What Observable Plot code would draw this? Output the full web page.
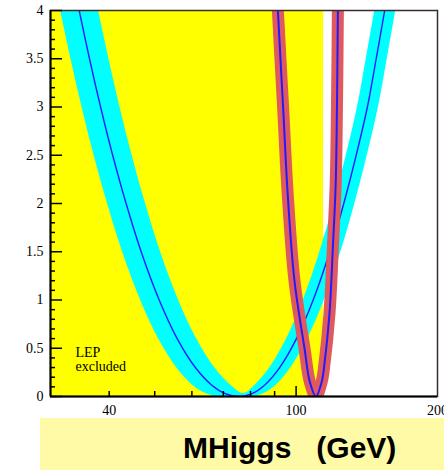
<!DOCTYPE html>
<html><head><meta charset="utf-8">
<script src="https://cdn.jsdelivr.net/npm/d3@7"></script>
<script src="https://cdn.jsdelivr.net/npm/@observablehq/plot@0.6"></script>
<style>
html,body{margin:0;padding:0;background:#fff;overflow:hidden;width:444px;height:470px}
#chart{position:absolute;left:0;top:0}
#xtitle{position:absolute;left:40px;top:418px;width:404px;height:52px;background:#fffaa6}
#xtitle span{position:absolute;left:143px;top:15px;font:bold 30px "Liberation Sans",Arial,sans-serif;line-height:30px;white-space:pre;color:#000}
</style></head><body>
<div id="chart"></div>
<div id="xtitle"><span>MHiggs   (GeV)</span></div>
<script>
// ---- axes ----
const xDomain = [30, 200];
const yDomain = [0, 4];
const xTickValues = [40, 100, 200];
const xTickLabels = ["40", "100", "200"];
const xMinorTicks = [40, 50, 60, 70, 80, 90];
const xMajorTicks = [100];
const yMajorTicks = [0, 0.5, 1, 1.5, 2, 2.5, 3, 3.5, 4];
const yTickLabels = ["0", "0.5", "1", "1.5", "2", "2.5", "3", "3.5", "4"];
const yMinorTicks = d3.range(1, 40).map(i => i / 10).filter(v => Math.round(v * 10) % 5 !== 0);

// ---- LEP exclusion ----
const lepLimit = 114.4;
const lepLabel = "LEP\nexcluded";

// ---- cyan band: centre line (Δχ² level, mass) ----
const bandCentreLevel = [4.4,4,3.5,3,2.5,2,1.5,1,0.6,0.3,0.12,0.03,0,0.03,0.12,0.3,0.6,1,1.5,2,2.5,3,3.5,4,4.4];
const bandCentreMass  = [33.24,34.53,36.32,38.35,40.69,43.46,46.79,51.11,55.82,61.03,66.05,70.70,75.66,80.55,85.77,92.26,100.18,108.73,117.95,126.33,134.25,141.83,148.08,154.38,159.37];

// ---- cyan band: inner (upper) edge, left to right ----
const bandInnerLevel = [4.4,4,3.5,3,2.5,2,1.5,1,0.6,0.3,0.12,0.036,0.12,0.3,0.6,1,1.5,2,2.5,3,3.5,4,4.4];
const bandInnerMass  = [36.48,37.90,39.86,42.09,44.66,47.70,51.36,56.10,61.27,66.99,72.50,77.16,81.47,87.64,95.16,103.28,112.04,120.0,127.52,134.72,140.66,146.64,151.39];

// ---- cyan band: outer (lower) edge, left to right ----
const bandOuterLevel = [4.4,4,3.5,3,2.5,2,1.5,1,0.6,0.3,0.12,0.03,0,0,0.03,0.12,0.3,0.6,1,1.5,2,2.5,3,3.5,4,4.4];
const bandOuterMass  = [30.28,31.46,33.09,34.94,37.07,39.60,42.63,46.57,50.86,55.60,60.18,64.41,68.93,79.65,84.80,90.30,97.13,105.47,114.47,124.18,133.0,141.34,149.32,155.9,162.53,167.78];

// ---- red curve ----
const redLevel = [4.4,4,3,2.1,1.2,0.5,0.15,0,0.15,0.34,0.86,1.55,2.2,3,4,4.4];
const redMass  = [90.78,91.46,93.82,95.96,99.20,104.2,106.98,110.18,113.36,114.93,117.78,119.76,121.41,122.18,122.73,122.97];

// ---- colours ----
const cYellow = "#ffff00", cCyan = "#00ffff", cBlue = "#2418ff", cRed = "#de5a5f";

const zip = (xs, ys) => xs.map((x, i) => ({m: x, v: ys[i]}));
const centre = zip(bandCentreMass, bandCentreLevel);
const bandPoly = [
  ...zip(bandInnerMass, bandInnerLevel),
  ...zip(bandOuterMass, bandOuterLevel).reverse()
];
const red = zip(redMass, redLevel);
const xLabelData = xTickValues.map((x, i) => ({x, label: xTickLabels[i]}));
const yLabelData = yMajorTicks.map((y, i) => ({y, label: yTickLabels[i]}));

const W = 444, H = 418, mL = 50, mR = 7, mT = 10, mB = 22;
const fw = W - mL - mR, fh = H - mT - mB;

const plot = Plot.plot({
  width: W, height: H,
  marginLeft: mL, marginRight: mR, marginTop: mT, marginBottom: mB,
  x: {type: "log", domain: xDomain, axis: null},
  y: {domain: yDomain, axis: null},
  style: {fontFamily: "'Liberation Serif','Times New Roman',serif", fontSize: "14px", background: "white", color: "black"},
  marks: [
    Plot.rect([{x1: xDomain[0], x2: lepLimit}], {x1: "x1", x2: "x2", y1: yDomain[0], y2: yDomain[1], fill: cYellow}),
    Plot.line(bandPoly, {x: "m", y: "v", fill: cCyan, stroke: "none", curve: "catmull-rom", clip: true}),
    Plot.line(centre, {x: "m", y: "v", stroke: cBlue, strokeWidth: 1.4, curve: "catmull-rom", clip: true}),
    Plot.line(red, {x: "m", y: "v", stroke: cRed, strokeWidth: 12, curve: "catmull-rom", clip: true}),
    Plot.line(red, {x: "m", y: "v", stroke: cBlue, strokeWidth: 2, curve: "catmull-rom", clip: true}),
    Plot.text([lepLabel], {frameAnchor: "bottom-left", dx: 25, dy: -26, lineAnchor: "bottom", textAnchor: "start", fontSize: 14, lineHeight: 1.0, fill: "black"}),
    Plot.frame({stroke: "#3b2b2b", strokeWidth: 1.5}),
    Plot.ruleX([xDomain[0]], {stroke: "black", strokeWidth: 2}),
    Plot.ruleY([yDomain[0]], {stroke: "black", strokeWidth: 2}),
    Plot.tickY(yMajorTicks, {y: d => d, insetRight: fw - 12, strokeWidth: 1.5}),
    Plot.tickY(yMinorTicks, {y: d => d, insetRight: fw - 5, strokeWidth: 1.5}),
    Plot.tickX(xMinorTicks, {x: d => d, insetTop: fh - 5, strokeWidth: 1.5}),
    Plot.tickX(xMajorTicks, {x: d => d, insetTop: fh - 10, strokeWidth: 1.5}),
    Plot.text(yLabelData, {y: "y", text: "label", frameAnchor: "left", dx: -7, textAnchor: "end", fontSize: 14, fill: "black"}),
    Plot.text(xLabelData, {x: "x", text: "label", frameAnchor: "bottom", dy: 9, lineAnchor: "top", fontSize: 14, fill: "black"})
  ]
});
document.getElementById("chart").appendChild(plot);
</script>
</body></html>
